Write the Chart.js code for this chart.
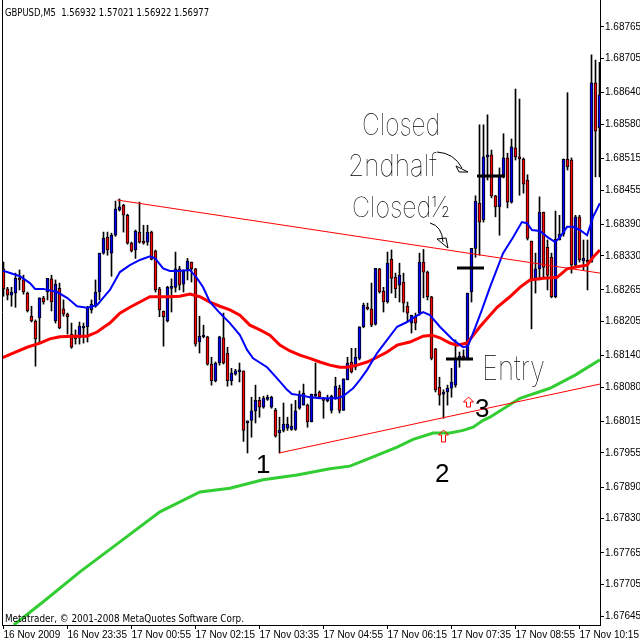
<!DOCTYPE html>
<html>
<head>
<meta charset="utf-8">
<script src="https://cdn.jsdelivr.net/npm/chart.js@4"></script>
<style>
  html, body { margin: 0; padding: 0; background: #fff; }
  canvas { display: block; }
</style>
</head>
<body>
<canvas id="chart" width="640" height="640"></canvas>
<script>
// GBPUSD M5, bars from 16 Nov 22:15, one every 5 minutes
const timeLabels = ['16 Nov 2009', '16 Nov 23:35', '17 Nov 00:55', '17 Nov 02:15', '17 Nov 03:35',
  '17 Nov 04:55', '17 Nov 06:15', '17 Nov 07:35', '17 Nov 08:55', '17 Nov 10:15'];
const timeTickBars = [0, 16, 32, 48, 64, 80, 96, 112, 128, 144];
const priceTicks = [1.68765, 1.68705, 1.68640, 1.68580, 1.68515, 1.68455, 1.68390, 1.68330, 1.68265,
  1.68205, 1.68140, 1.68080, 1.68015, 1.67955, 1.67890, 1.67830, 1.67765, 1.67705, 1.67645];

const open = [1.68305,1.68267,1.68255,1.68259,1.68287,1.68284,1.68259,1.68215,1.68206,1.68212,
  1.68250,1.68261,1.68286,1.68206,1.68268,1.68229,1.68219,1.68181,1.68179,1.68174,
  1.68193,1.68195,1.68227,1.68234,1.68261,1.68335,1.68365,1.68335,1.68369,1.68417,
  1.68426,1.68407,1.68354,1.68341,1.68375,1.68358,1.68356,1.68375,1.68339,1.68267,
  1.68225,1.68206,1.68268,1.68270,1.68305,1.68276,1.68305,1.68318,1.68305,1.68166,
  1.68176,1.68176,1.68124,1.68092,1.68126,1.68174,1.68145,1.68092,1.68105,1.68109,
  1.68111,1.68012,1.68017,1.68035,1.68055,1.68042,1.68057,1.68042,1.68036,1.67993,
  1.67998,1.68002,1.68000,1.68000,1.68040,1.68046,1.68046,1.68014,1.68063,1.68071,
  1.68059,1.68054,1.68036,1.68059,1.68078,1.68036,1.68094,1.68128,1.68118,1.68135,
  1.68195,1.68232,1.68229,1.68200,1.68305,1.68263,1.68242,1.68323,1.68289,1.68274,
  1.68280,1.68234,1.68202,1.68214,1.68221,1.68318,1.68299,1.68252,1.68153,1.68080,
  1.68067,1.68071,1.68078,1.68084,1.68135,1.68139,1.68135,1.68261,1.68344,1.68430,
  1.68398,1.68518,1.68522,1.68444,1.68423,1.68484,1.68516,1.68432,1.68535,1.68518,
  1.68514,1.68474,1.68358,1.68287,1.68305,1.68413,1.68346,1.68327,1.68252,1.68360,
  1.68371,1.68514,1.68512,1.68312,1.68404,1.68320,1.68322,1.68318,1.68659,1.68573];
const high = [1.68318,1.68270,1.68270,1.68297,1.68303,1.68293,1.68261,1.68234,1.68208,1.68250,
  1.68253,1.68287,1.68293,1.68284,1.68278,1.68246,1.68221,1.68202,1.68189,1.68204,
  1.68202,1.68234,1.68246,1.68284,1.68335,1.68375,1.68375,1.68373,1.68434,1.68438,
  1.68428,1.68409,1.68356,1.68379,1.68432,1.68388,1.68388,1.68377,1.68341,1.68270,
  1.68225,1.68272,1.68286,1.68337,1.68310,1.68303,1.68325,1.68318,1.68306,1.68215,
  1.68198,1.68177,1.68137,1.68128,1.68177,1.68221,1.68156,1.68116,1.68114,1.68126,
  1.68111,1.68016,1.68061,1.68084,1.68061,1.68063,1.68065,1.68063,1.68040,1.68023,
  1.68050,1.68023,1.68048,1.68055,1.68073,1.68086,1.68048,1.68067,1.68126,1.68073,
  1.68061,1.68065,1.68065,1.68099,1.68084,1.68096,1.68137,1.68154,1.68154,1.68195,
  1.68240,1.68240,1.68278,1.68306,1.68306,1.68270,1.68337,1.68341,1.68297,1.68316,
  1.68297,1.68242,1.68217,1.68221,1.68335,1.68342,1.68301,1.68253,1.68154,1.68099,
  1.68075,1.68084,1.68116,1.68170,1.68147,1.68151,1.68259,1.68344,1.68444,1.68579,
  1.68579,1.68598,1.68531,1.68445,1.68497,1.68562,1.68525,1.68552,1.68647,1.68628,
  1.68516,1.68484,1.68358,1.68335,1.68442,1.68413,1.68360,1.68335,1.68415,1.68407,
  1.68514,1.68640,1.68516,1.68407,1.68407,1.68360,1.68360,1.68712,1.68702,1.68698];
const low = [1.68253,1.68246,1.68234,1.68232,1.68265,1.68257,1.68223,1.68204,1.68120,1.68164,
  1.68238,1.68246,1.68225,1.68202,1.68191,1.68215,1.68181,1.68154,1.68162,1.68162,
  1.68164,1.68166,1.68221,1.68232,1.68246,1.68333,1.68331,1.68291,1.68367,1.68415,
  1.68375,1.68352,1.68337,1.68325,1.68354,1.68352,1.68350,1.68322,1.68261,1.68214,
  1.68158,1.68204,1.68223,1.68261,1.68265,1.68261,1.68284,1.68280,1.68158,1.68145,
  1.68174,1.68122,1.68084,1.68090,1.68122,1.68124,1.68082,1.68084,1.68103,1.68090,
  1.67977,1.67955,1.67985,1.68012,1.68023,1.68040,1.68055,1.68040,1.67985,1.67955,
  1.67995,1.67998,1.67998,1.67998,1.68038,1.68046,1.68004,1.68014,1.68061,1.68059,
  1.68021,1.68052,1.68031,1.68057,1.68031,1.68036,1.68094,1.68107,1.68113,1.68132,
  1.68193,1.68227,1.68195,1.68198,1.68259,1.68223,1.68240,1.68259,1.68250,1.68242,
  1.68223,1.68204,1.68183,1.68189,1.68217,1.68250,1.68246,1.68132,1.68071,1.68046,
  1.68021,1.68046,1.68061,1.68080,1.68118,1.68132,1.68132,1.68242,1.68327,1.68331,
  1.68394,1.68474,1.68440,1.68404,1.68369,1.68478,1.68421,1.68430,1.68512,1.68445,
  1.68449,1.68360,1.68191,1.68259,1.68284,1.68289,1.68265,1.68250,1.68250,1.68360,
  1.68367,1.68493,1.68297,1.68308,1.68318,1.68303,1.68265,1.68318,1.68480,1.68480];
const close = [1.68267,1.68255,1.68261,1.68287,1.68284,1.68261,1.68225,1.68206,1.68172,1.68250,
  1.68242,1.68287,1.68242,1.68276,1.68193,1.68219,1.68214,1.68156,1.68172,1.68196,
  1.68196,1.68231,1.68238,1.68261,1.68335,1.68363,1.68341,1.68369,1.68419,1.68423,
  1.68407,1.68354,1.68339,1.68377,1.68356,1.68354,1.68375,1.68323,1.68265,1.68227,
  1.68214,1.68270,1.68272,1.68305,1.68274,1.68301,1.68320,1.68305,1.68162,1.68177,
  1.68179,1.68124,1.68092,1.68126,1.68176,1.68126,1.68092,1.68107,1.68111,1.68113,
  1.67998,1.68016,1.68035,1.68055,1.68042,1.68059,1.68061,1.68061,1.67987,1.67998,
  1.68010,1.68010,1.68006,1.68035,1.68065,1.68069,1.68014,1.68067,1.68067,1.68061,
  1.68055,1.68059,1.68063,1.68082,1.68036,1.68096,1.68126,1.68109,1.68137,1.68195,
  1.68236,1.68229,1.68198,1.68306,1.68261,1.68242,1.68316,1.68287,1.68267,1.68293,
  1.68240,1.68221,1.68217,1.68202,1.68318,1.68299,1.68252,1.68135,1.68075,1.68065,
  1.68071,1.68078,1.68090,1.68135,1.68139,1.68135,1.68259,1.68344,1.68434,1.68394,
  1.68518,1.68522,1.68444,1.68423,1.68484,1.68516,1.68432,1.68537,1.68518,1.68514,
  1.68466,1.68363,1.68286,1.68305,1.68413,1.68308,1.68293,1.68252,1.68361,1.68371,
  1.68514,1.68499,1.68312,1.68404,1.68322,1.68325,1.68318,1.68659,1.68567,1.68636];

// moving averages: [bar position, price]
const maBlue = [[-0.9,1.68303],[0.9,1.68299],[4.1,1.68291],[6.6,1.68278],[7.9,1.68267],[9.9,1.68267],
  [13.4,1.68261],[15.9,1.68250],[18.4,1.68234],[20.9,1.68231],[23.4,1.68236],[24.9,1.68250],
  [26.6,1.68265],[29.1,1.68299],[31.6,1.68312],[34.1,1.68322],[36.6,1.68329],[37.9,1.68325],
  [39.9,1.68306],[41.6,1.68301],[43.6,1.68301],[46.6,1.68303],[48.4,1.68287],[49.9,1.68270],
  [51.6,1.68242],[54.1,1.68221],[56.6,1.68202],[59.1,1.68179],[60.9,1.68151],[62.4,1.68135],
  [65.9,1.68118],[68.4,1.68097],[70.9,1.68075],[72.1,1.68067],[74.1,1.68065],[76.6,1.68061],
  [79.1,1.68059],[83.4,1.68059],[84.9,1.68063],[87.4,1.68078],[89.1,1.68094],[90.9,1.68113],
  [93.4,1.68145],[95.9,1.68170],[98.4,1.68195],[100.9,1.68204],[102.4,1.68212],[104.9,1.68223],
  [106.6,1.68217],[109.1,1.68195],[112.4,1.68170],[114.9,1.68156],[116.1,1.68158],[117.9,1.68193],
  [119.6,1.68227],[121.6,1.68270],[124.9,1.68335],[127.4,1.68365],[129.6,1.68394],[130.9,1.68392],
  [132.1,1.68379],[134.1,1.68377],[136.1,1.68365],[137.9,1.68356],[139.1,1.68365],[140.9,1.68385],
  [142.4,1.68385],[144.1,1.68379],[145.9,1.68369],[147.4,1.68404],[149.1,1.68430]];
const maRed = [[-0.9,1.68134],[2.4,1.68145],[5.9,1.68156],[9.1,1.68164],[11.6,1.68172],[14.1,1.68176],
  [17.4,1.68177],[20.9,1.68177],[23.4,1.68185],[25.4,1.68196],[26.6,1.68202],[29.1,1.68221],
  [31.6,1.68232],[34.1,1.68242],[36.6,1.68252],[39.1,1.68252],[41.6,1.68252],[44.1,1.68253],
  [46.6,1.68257],[49.1,1.68252],[51.6,1.68242],[54.1,1.68234],[56.6,1.68227],[59.1,1.68217],
  [61.6,1.68198],[64.1,1.68189],[66.6,1.68179],[69.1,1.68160],[71.6,1.68149],[74.1,1.68141],
  [76.6,1.68135],[79.1,1.68128],[81.6,1.68122],[84.1,1.68118],[85.9,1.68118],[88.4,1.68122],
  [90.9,1.68128],[93.4,1.68137],[95.9,1.68147],[98.4,1.68160],[101.6,1.68166],[104.9,1.68177],
  [107.1,1.68179],[109.1,1.68174],[111.6,1.68164],[113.4,1.68160],[115.9,1.68164],[119.1,1.68195],
  [123.4,1.68232],[126.6,1.68252],[129.1,1.68270],[131.6,1.68284],[134.9,1.68287],[138.4,1.68289],
  [140.9,1.68305],[144.1,1.68310],[145.9,1.68312],[147.4,1.68327],[149.1,1.68341]];
const maGreen = [[2.6,1.67628],[10.4,1.67675],[19.1,1.67729],[29.1,1.67786],[39.1,1.67843],
  [49.1,1.67881],[56.6,1.67888],[64.9,1.67904],[73.4,1.67913],[81.6,1.67925],[86.6,1.67930],
  [89.9,1.67940],[94.1,1.67953],[98.4,1.67966],[102.4,1.67981],[107.4,1.67993],[111.6,1.67993],
  [114.9,1.67998],[117.4,1.68004],[119.9,1.68017],[121.6,1.68023],[129.1,1.68059],[136.6,1.68078],
  [142.9,1.68103],[149.1,1.68132]];

// hand drawn trend lines
const trendUpper = [[28.4,1.68436],[149.1,1.68297]];
const trendLower = [[68.9,1.67955],[149.1,1.68086]];

const pts = arr => arr.map(p => ({ x: p[0], y: p[1] }));
const bars = open.map((o, i) => i);

// text, marks and arrows someone drew on the screenshot
const overlay = {
  id: 'overlay',
  afterDraw(chart) {
    const ctx = chart.ctx;
    ctx.save();
    ctx.strokeStyle = '#000';
    ctx.lineWidth = 1;
    ctx.beginPath();
    ctx.moveTo(2.5, 0); ctx.lineTo(2.5, 625);
    ctx.stroke();

    ctx.fillStyle = '#000';
    ctx.textBaseline = 'alphabetic';
    ctx.font = '11px Tahoma, "DejaVu Sans", sans-serif';
    ctx.fillText('GBPUSD,M5  1.56932 1.57021 1.56922 1.56977', 5, 16, 204);
    ctx.fillText('Metatrader, \u00a9 2001-2008 MetaQuotes Software Corp.', 5, 622, 239);

    // trade level marks
    ctx.lineWidth = 3;
    [[446, 473, 359], [457, 484, 268], [477, 505, 176]].forEach(m => {
      ctx.beginPath(); ctx.moveTo(m[0], m[2]); ctx.lineTo(m[1], m[2]); ctx.stroke();
    });

    // handwriting
    ctx.font = '100 30px Inter, "DejaVu Sans", sans-serif';
    ctx.fillText('Closed', 362, 135, 78);
    ctx.fillText('2ndhalf', 348, 176, 89);
    ctx.font = '100 28px Inter, "DejaVu Sans", sans-serif';
    ctx.fillText('Closed\u00bd', 352, 217, 98);
    ctx.font = '100 34px Inter, "DejaVu Sans", sans-serif';
    ctx.fillText('Entry', 482, 380, 63);

    ctx.lineWidth = 1;
    ctx.beginPath();
    ctx.moveTo(437, 152); ctx.quadraticCurveTo(454, 153, 462, 168);
    ctx.moveTo(430, 223); ctx.quadraticCurveTo(442, 226, 443, 242);
    ctx.stroke();
    ctx.beginPath();
    ctx.moveTo(456, 166); ctx.lineTo(468, 172); ctx.lineTo(459, 172); ctx.closePath();
    ctx.moveTo(437, 239); ctx.lineTo(448, 248); ctx.lineTo(446, 238); ctx.closePath();
    ctx.stroke();

    // wave numbers
    ctx.font = '26px "Liberation Sans", Arial, sans-serif';
    ctx.fillText('1', 256, 473);
    ctx.fillText('2', 435, 482);
    ctx.fillText('3', 475, 417);

    // hollow red up arrows
    ctx.strokeStyle = '#ff0000';
    [[443.5, 430, 12], [468.5, 397, 10]].forEach(a => {
      const [cx, ty, h] = a;
      ctx.beginPath();
      ctx.moveTo(cx, ty); ctx.lineTo(cx + 5, ty + 5); ctx.lineTo(cx + 2, ty + 5);
      ctx.lineTo(cx + 2, ty + h); ctx.lineTo(cx - 2, ty + h); ctx.lineTo(cx - 2, ty + 5);
      ctx.lineTo(cx - 5, ty + 5); ctx.closePath();
      ctx.stroke();
    });
    ctx.restore();
  }
};

new Chart(document.getElementById('chart'), {
  type: 'bar',
  data: {
    datasets: [
      { type: 'line', data: pts(trendUpper), borderColor: '#ff0000', borderWidth: 1, pointRadius: 0 },
      { type: 'line', data: pts(trendLower), borderColor: '#ff0000', borderWidth: 1, pointRadius: 0 },
      { type: 'line', data: pts(maBlue), borderColor: '#0000ff', borderWidth: 2, pointRadius: 0 },
      { type: 'line', data: pts(maRed), borderColor: '#ff0000', borderWidth: 3, pointRadius: 0 },
      { type: 'line', data: pts(maGreen), borderColor: '#32cd32', borderWidth: 3, pointRadius: 0 },
      {
        data: bars.map(i => ({ x: i, y: [open[i], close[i]] })),
        backgroundColor: bars.map(i => close[i] >= open[i] ? '#0000ff' : '#ff0000'),
        borderColor: '#000', borderWidth: 1, borderSkipped: false,
        barThickness: 3, grouped: false
      },
      {
        data: bars.map(i => ({ x: i, y: [low[i], high[i]] })),
        backgroundColor: '#000', borderWidth: 0,
        barThickness: 1, grouped: false
      }
    ]
  },
  options: {
    responsive: false,
    animation: false,
    layout: { padding: { left: 2, top: 0, right: 0, bottom: 0 } },
    plugins: { legend: { display: false }, tooltip: { enabled: false } },
    scales: {
      x: {
        type: 'linear', min: -0.375, max: 149.125, offset: false,
        afterBuildTicks: axis => { axis.ticks = timeTickBars.map(v => ({ value: v })); },
        afterFit: axis => { axis.height = 15; axis.paddingLeft = 0; axis.paddingRight = 0; },
        ticks: {
          autoSkip: false, maxRotation: 0, align: 'start', padding: 0, color: '#000',
          font: { family: '"Liberation Sans", Arial, sans-serif', size: 10 },
          callback: (v, i) => timeLabels[i]
        },
        grid: { drawOnChartArea: false, offset: false, color: '#000', tickLength: 4 },
        border: { color: '#000' }
      },
      y: {
        position: 'right', min: 1.676279, max: 1.688163,
        afterBuildTicks: axis => { axis.ticks = priceTicks.map(v => ({ value: v })); },
        afterFit: axis => { axis.width = 40; axis.paddingTop = 0; axis.paddingBottom = 0; },
        ticks: {
          padding: 1, color: '#000',
          font: { family: '"Liberation Sans", Arial, sans-serif', size: 10 },
          callback: v => v.toFixed(5)
        },
        grid: { drawOnChartArea: false, color: '#000', tickLength: 4 },
        border: { color: '#000' }
      }
    }
  },
  plugins: [overlay]
});
</script>
</body>
</html>
